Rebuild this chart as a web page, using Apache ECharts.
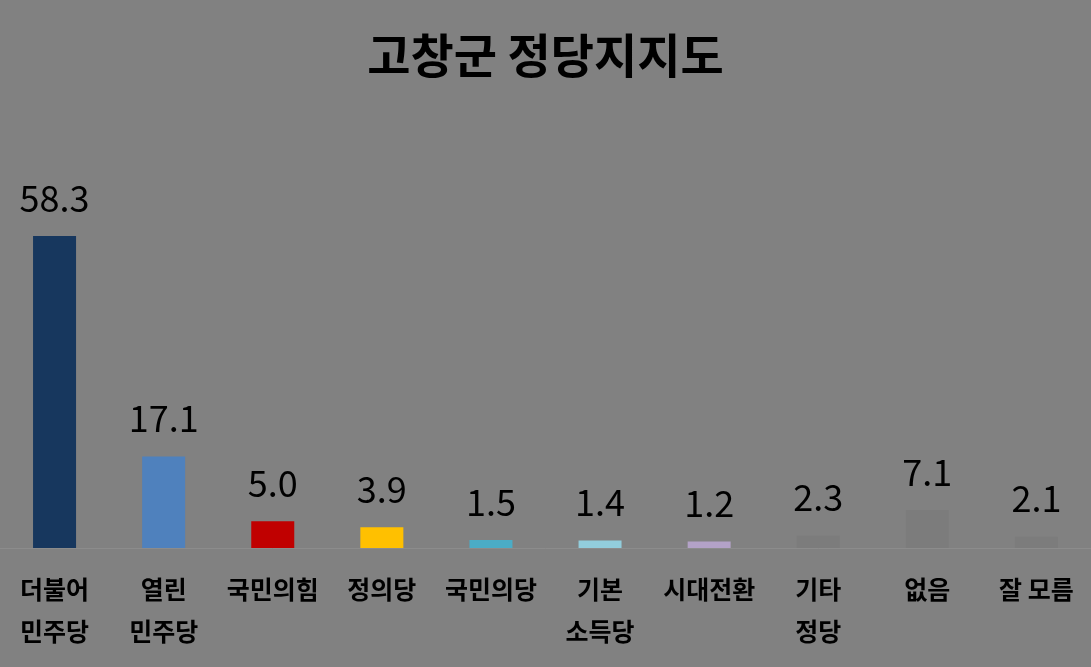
<!DOCTYPE html>
<html><head><meta charset="utf-8">
<script src="https://cdn.jsdelivr.net/npm/echarts@6/dist/echarts.min.js"></script>
<style>html,body{margin:0;padding:0;background:#818181;}#c{width:1091px;height:667px;}</style>
</head><body><div id="c"></div>
<script>
const title = '고창군 정당지지도';
const categories = ['더불어\n민주당','열린\n민주당','국민의힘','정의당','국민의당','기본\n소득당','시대전환','기타\n정당','없음','잘 모름'];
const values = [58.3, 17.1, 5.0, 3.9, 1.5, 1.4, 1.2, 2.3, 7.1, 2.1];
const colors = ['#17375E','#4F81BD','#C00000','#FFC000','#4BACC6','#92CDDC','#B3A2C7','#7c7c7c','#7c7c7c','#7c7c7c'];
const chart = echarts.init(document.getElementById('c'));
chart.setOption({
  backgroundColor: '#818181',
  animation: false,
  title: {text: title, left: 'center', top: 27, textStyle: {fontFamily: 'Noto Sans CJK KR', fontWeight: 'bold', fontSize: 47, color: '#000'}},
  grid: {left: 0, right: 0, top: 173.5, bottom: 119},
  xAxis: {type: 'category', data: categories,
    axisLine: {lineStyle: {color: '#8c8c8c', width: 1}}, axisTick: {show: false},
    axisLabel: {interval: 0, margin: 20, fontFamily: 'Noto Sans CJK KR', fontWeight: 'bold', fontSize: 25, lineHeight: 42, color: '#000'}},
  yAxis: {type: 'value', min: 0, max: 70, show: false, splitLine: {show: false}},
  series: [{type: 'bar', barWidth: 43,
    data: values.map((v, i) => ({value: v, itemStyle: {color: colors[i]}})),
    label: {show: true, position: 'top', distance: 20, formatter: p => p.value.toFixed(1), fontFamily: 'Noto Sans CJK KR', fontSize: 36, color: '#000'}}]
});
</script></body></html>
